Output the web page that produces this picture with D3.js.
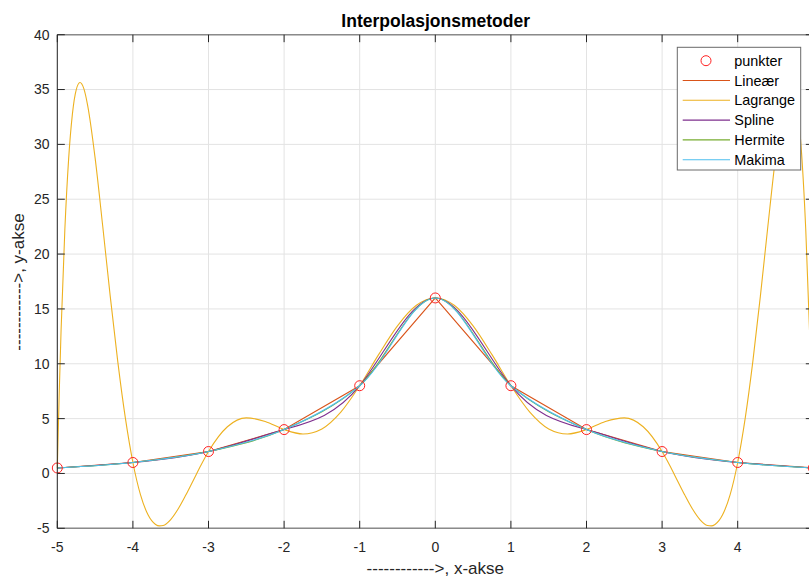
<!DOCTYPE html>
<html>
<head>
<meta charset="utf-8">
<script src="https://cdn.jsdelivr.net/npm/d3@7"></script>
<style>
  body { margin: 0; background: #fff; }
  svg { display: block; font-family: "Liberation Sans", Arial, Helvetica, sans-serif; }
</style>
</head>
<body>
<svg id="chart" width="809" height="578"></svg>
<script>
// punktene som interpoleres
const punktX = [-5, -4, -3, -2, -1, 0, 1, 2, 3, 4, 5];
const punktY = [0.5, 1, 2, 4, 8, 16, 8, 4, 2, 1, 0.5];

// Lagrange-kurven
const lagX = [-5, -4.975, -4.95, -4.9, -4.85, -4.8, -4.75, -4.7, -4.65, -4.6, -4.5, -4.4, -4.3, -4.2, -4.1,
  -4, -3.9, -3.8, -3.7, -3.65, -3.6, -3.5, -3.4, -3.3, -3.2, -3.1, -3, -2.75, -2.5, -2.25, -2, -1.75, -1.5,
  -1.25, -1, -0.75, -0.5, -0.25, 0, 0.25, 0.5, 0.75, 1, 1.25, 1.5, 1.75, 2, 2.25, 2.5, 2.75, 3, 3.1, 3.2,
  3.3, 3.4, 3.5, 3.6, 3.65, 3.7, 3.8, 3.9, 4, 4.1, 4.2, 4.3, 4.4, 4.5, 4.6, 4.65, 4.7, 4.75, 4.8, 4.85,
  4.9, 4.95, 4.975, 5];
const lagY = [0.5, 7.23, 13.05, 22.26, 28.68, 32.78, 34.98, 35.64, 35.1, 33.61, 28.77, 22.6, 16.17, 10.19, 5.06,
  1, -1.93, -3.77, -4.65, -4.78, -4.74, -4.2, -3.22, -1.97, -0.61, 0.75, 2, 4.26, 5.07, 4.74, 4, 3.6, 4.06,
  5.59, 8, 10.83, 13.46, 15.33, 16, 15.33, 13.46, 10.83, 8, 5.59, 4.06, 3.6, 4, 4.74, 5.07, 4.26, 2, 0.75, -0.61,
  -1.97, -3.22, -4.2, -4.74, -4.78, -4.65, -3.77, -1.93, 1, 5.06, 10.19, 16.17, 22.6, 28.77, 33.61, 35.1, 35.64,
  34.98, 32.78, 28.68, 22.26, 13.05, 7.23, 0.5];

const xTicks = [-5, -4, -3, -2, -1, 0, 1, 2, 3, 4];
const yTicks = [-5, 0, 5, 10, 15, 20, 25, 30, 35, 40];

const serier = ["Lineær", "Lagrange", "Spline", "Hermite", "Makima"];
const farger = ["#D95319", "#EDB120", "#7E2F8E", "#77AC30", "#4DBEEE"];

const pL = 57.3, pR = 813.3, pT = 34.7, pB = 528.3;
const axCol = "#262626";

const x = d3.scaleLinear().domain([-5, 5]).range([pL, pR]);
const y = d3.scaleLinear().domain([-5, 40]).range([pB, pT]);

const svg = d3.select("#chart");

// rutenett
svg.append("g").selectAll("line").data(xTicks).join("line")
  .attr("x1", d => x(d)).attr("x2", d => x(d)).attr("y1", pT).attr("y2", pB)
  .attr("stroke", "#e3e3e3").attr("stroke-width", 1);
svg.append("g").selectAll("line").data(yTicks).join("line")
  .attr("x1", pL).attr("x2", pR).attr("y1", d => y(d)).attr("y2", d => y(d))
  .attr("stroke", "#e3e3e3").attr("stroke-width", 1);

svg.append("clipPath").attr("id", "clip").append("rect")
  .attr("x", pL - 6).attr("y", pT).attr("width", pR - pL + 6).attr("height", pB - pT);

const plot = svg.append("g").attr("clip-path", "url(#clip)");

const punkter = punktX.map((d, i) => [d, punktY[i]]);
const lagrange = lagX.map((d, i) => [d, lagY[i]]);

const kurver = [d3.curveLinear, d3.curveMonotoneX, d3.curveNatural, d3.curveMonotoneX, d3.curveCatmullRom];
const data = [punkter, lagrange, punkter, punkter, punkter];

serier.forEach((s, i) => {
  const line = d3.line().x(d => x(d[0])).y(d => y(d[1])).curve(kurver[i]);
  plot.append("path").datum(data[i])
    .attr("d", line)
    .attr("fill", "none")
    .attr("stroke", farger[i])
    .attr("stroke-width", 1.1);
});

// punkter
plot.selectAll("circle").data(punkter).join("circle")
  .attr("cx", d => x(d[0])).attr("cy", d => y(d[1])).attr("r", 5)
  .attr("fill", "none").attr("stroke", "#FF2020").attr("stroke-width", 1);

// akser
const ax = svg.append("g").attr("fill", "none");
ax.append("line").attr("x1", pL).attr("x2", pR).attr("y1", pB).attr("y2", pB)
  .attr("stroke", "#8a8a8a").attr("stroke-width", 1.6);
ax.append("line").attr("x1", pL).attr("x2", pR).attr("y1", pT).attr("y2", pT)
  .attr("stroke", "#8a8a8a").attr("stroke-width", 1.6);
ax.append("line").attr("x1", pL).attr("x2", pL).attr("y1", pT).attr("y2", pB)
  .attr("stroke", axCol).attr("stroke-width", 1);
ax.append("line").attr("x1", pR).attr("x2", pR).attr("y1", pT).attr("y2", pB)
  .attr("stroke", axCol).attr("stroke-width", 1);

const tl = 7.5;
xTicks.forEach(t => {
  ax.append("line").attr("x1", x(t)).attr("x2", x(t)).attr("y1", pB).attr("y2", pB - tl).attr("stroke", axCol);
  ax.append("line").attr("x1", x(t)).attr("x2", x(t)).attr("y1", pT).attr("y2", pT + tl).attr("stroke", axCol);
});
yTicks.forEach(t => {
  ax.append("line").attr("x1", pL).attr("x2", pL + tl).attr("y1", y(t)).attr("y2", y(t)).attr("stroke", axCol);
  ax.append("line").attr("x1", pR).attr("x2", pR - tl).attr("y1", y(t)).attr("y2", y(t)).attr("stroke", axCol);
});

svg.append("g").selectAll("text").data(xTicks).join("text")
  .attr("x", d => x(d)).attr("y", 551.5)
  .attr("text-anchor", "middle").attr("font-size", 14).attr("fill", axCol)
  .text(d => d);
svg.append("g").selectAll("text").data(yTicks).join("text")
  .attr("x", 49.5).attr("y", d => y(d)).attr("dy", "0.35em")
  .attr("text-anchor", "end").attr("font-size", 14).attr("fill", axCol)
  .text(d => d);

// titler
svg.append("text").attr("x", 435.7).attr("y", 26.5).attr("text-anchor", "middle")
  .attr("font-size", 17.5).attr("font-weight", "bold").attr("fill", "#000")
  .text("Interpolasjonsmetoder");
svg.append("text").attr("x", 435.3).attr("y", 574).attr("text-anchor", "middle")
  .attr("font-size", 17).attr("fill", axCol)
  .text("------------>, x-akse");
svg.append("text").attr("transform", "translate(24,282) rotate(-90)").attr("text-anchor", "middle")
  .attr("font-size", 17).attr("fill", axCol)
  .text("------------>, y-akse");

// forklaring
const lg = svg.append("g");
lg.append("rect").attr("x", 677.3).attr("y", 47.3).attr("width", 123.4).attr("height", 122.7)
  .attr("fill", "#fff").attr("stroke", "#6a6a6a").attr("stroke-width", 1);
const rad = i => 60.7 + i * 19.8;
lg.append("circle").attr("cx", 706).attr("cy", rad(0)).attr("r", 5)
  .attr("fill", "none").attr("stroke", "#FF2020").attr("stroke-width", 1);
lg.append("text").attr("x", 734.3).attr("y", rad(0)).attr("dy", "0.35em")
  .attr("font-size", 14.4).attr("fill", "#000").text("punkter");
serier.forEach((s, i) => {
  lg.append("line").attr("x1", 682.7).attr("x2", 730).attr("y1", rad(i + 1)).attr("y2", rad(i + 1))
    .attr("stroke", farger[i]).attr("stroke-width", 1.1);
  lg.append("text").attr("x", 734.3).attr("y", rad(i + 1)).attr("dy", "0.35em")
    .attr("font-size", 14.4).attr("fill", "#000").text(s);
});
</script>
</body>
</html>
